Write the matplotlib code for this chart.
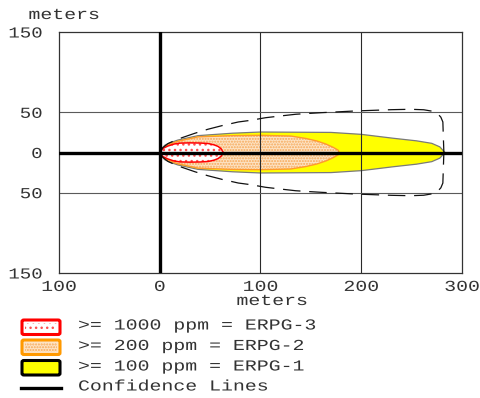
import numpy as np
import matplotlib
matplotlib.use("Agg")
import matplotlib.pyplot as plt
from matplotlib.patches import FancyBboxPatch
from matplotlib.lines import Line2D
from matplotlib.patheffects import AbstractPathEffect
from matplotlib.transforms import Affine2D

# Threat zone footprints: downwind distance (m) and half-width of each zone (m)
erpg1_x = [0, 2, 5, 10, 18, 38, 72, 100, 170, 200, 232, 255, 270, 278, 283]
erpg1_w = [0, 5, 9, 12, 15.5, 21, 24, 25.5, 25, 22.6, 17.7, 14.5, 11.4, 7, 0]

erpg2_x = [0, 2, 5, 10, 18, 38, 72, 100, 130, 145, 156, 165, 172, 177, 178]
erpg2_w = [0, 4, 7.5, 10.5, 14, 19.5, 21, 21.4, 20.5, 17.5, 14.3, 10.5, 6.5, 3, 0]

erpg3_x = [0, 3, 8, 14, 20, 30, 40, 48, 54, 58, 61, 63]
erpg3_w = [0, 5, 8, 10.5, 11.7, 12, 11.8, 11.2, 9.5, 7.5, 4.5, 0]

# Confidence lines around the ERPG-1 footprint
conf_x = [0, 3, 8, 15, 22, 35, 48, 62, 78, 90, 105, 120, 135, 150, 161, 180,
          194, 212, 230, 249, 262, 270, 276, 279, 281, 282]
conf_w = [0, 6, 11, 15, 18.4, 24, 29, 33.5, 38, 40, 43.3, 45.5, 47.6, 48.8,
          49.6, 50.8, 51.7, 52.5, 53.3, 53.8, 53.2, 51.5, 48, 44, 38, 0]

x_ticks = [-100, 0, 100, 200, 300]
x_tick_labels = ["100", "0", "100", "200", "300"]
y_ticks = [-150, -50, 0, 50, 150]
y_tick_labels = ["150", "50", "0", "50", "150"]

legend_labels = [">= 1000 ppm = ERPG-3", ">= 200 ppm = ERPG-2",
                 ">= 100 ppm = ERPG-1", "Confidence Lines"]

FONT = "Liberation Mono"
TXT = "#333333"
FS = 11
plt.rcParams["hatch.linewidth"] = 1.0


class WideText(AbstractPathEffect):
    """Draw text glyphs stretched horizontally about an anchor."""

    def __init__(self, sx=1.3, anchor="left"):
        super().__init__()
        self.sx = sx
        self.anchor = anchor

    def draw_path(self, renderer, gc, tpath, affine, rgbFace=None):
        ext = tpath.get_extents()
        if self.anchor == "left":
            a = 0.0
        elif self.anchor == "right":
            a = ext.x1
        else:
            a = 0.5 * (ext.x0 + ext.x1)
        t = Affine2D().translate(-a, 0).scale(self.sx, 1.0).translate(a, 0) + affine
        renderer.draw_path(gc, tpath, t, rgbFace)


W, H = 481, 398
fig = plt.figure(figsize=(W / 100, H / 100), dpi=100)
ax = fig.add_axes([59 / W, 1 - 273 / H, 403 / W, 241 / H])
ax.set_xlim(-100, 300)
ax.set_ylim(-150, 150)

x1, w1 = np.array(erpg1_x), np.array(erpg1_w)
x2, w2 = np.array(erpg2_x), np.array(erpg2_w)
x3, w3 = np.array(erpg3_x), np.array(erpg3_w)
xc, wc = np.array(conf_x), np.array(conf_w)

# ERPG-1 (yellow)
ax.fill_between(x1, w1, -w1, facecolor="#FFFF00", linewidth=0, zorder=1)
ax.plot(x1, w1, color="#7a7a7a", lw=0.9, zorder=1.1)
ax.plot(x1, -w1, color="#7a7a7a", lw=0.9, zorder=1.1)

# ERPG-2 (orange, dotted texture)
ax.fill_between(x2, w2, -w2, facecolor="#FDE3C4", linewidth=0, zorder=1.2)
ax.fill_between(x2, w2, -w2, facecolor="none", hatch="......",
                edgecolor="#F6A858", linewidth=0, zorder=1.3)
ax.plot(x2, w2, color="#FF9A2E", lw=1.0, zorder=1.4)
ax.plot(x2, -w2, color="#FF9A2E", lw=1.0, zorder=1.4)

# ERPG-3 (red outline, white with red dots)
ax.fill_between(x3, w3, -w3, facecolor="white", linewidth=0, zorder=1.5)
ax.fill_between(x3, w3, -w3, facecolor="none", hatch="...",
                edgecolor="#FF5050", linewidth=0, zorder=1.6)
ax.plot(x3, w3, color="#FF0000", lw=1.1, zorder=1.7)
ax.plot(x3, -w3, color="#FF0000", lw=1.1, zorder=1.7)

# grid
for gx in (100, 200):
    ax.axvline(gx, color="#2a2a2a", lw=0.8, zorder=2)
for gy in (50, -50):
    ax.axhline(gy, color="#5a5a5a", lw=0.8, zorder=2)

# confidence lines
ax.plot(xc, wc, color="#111111", lw=0.9, dashes=(14, 7), zorder=3)
ax.plot(xc, -wc, color="#111111", lw=0.9, dashes=(14, 7), zorder=3)

# source axes
ax.axvline(0, color="black", lw=2.4, zorder=4)
ax.axhline(0, color="black", lw=2.4, zorder=4)

for s in ax.spines.values():
    s.set_color("#333333")
    s.set_linewidth(0.9)

ax.set_xticks(x_ticks)
ax.set_xticklabels(x_tick_labels)
ax.set_yticks(y_ticks)
ax.set_yticklabels(y_tick_labels)
ax.tick_params(axis="both", length=0, labelsize=FS, labelcolor=TXT)
ax.tick_params(axis="y", pad=12)
ax.tick_params(axis="x", pad=5)
for tk in ax.xaxis.get_major_ticks():
    tk.label1.set_fontfamily(FONT)
    tk.label1.set_path_effects([WideText(1.3, "center")])
for tk in ax.yaxis.get_major_ticks():
    tk.label1.set_fontfamily(FONT)
    tk.label1.set_path_effects([WideText(1.25, "right")])

fig.text(64 / W, 1 - 15 / H, "meters", ha="center", va="center",
         fontsize=FS, family=FONT, color=TXT,
         path_effects=[WideText(1.3, "center")])
fig.text(272 / W, 1 - 301 / H, "meters", ha="center", va="center",
         fontsize=FS, family=FONT, color=TXT,
         path_effects=[WideText(1.3, "center")])


# legend
def box(y_top, y_bot, edge, face, hatch=None, hatch_col=None):
    x0, x1b = 22 / W, 60 / W
    p = FancyBboxPatch((x0, 1 - y_bot / H), x1b - x0, (y_bot - y_top) / H,
                       boxstyle="round,pad=0,rounding_size=0.004",
                       transform=fig.transFigure, facecolor=face,
                       edgecolor=edge, linewidth=2.2)
    fig.add_artist(p)
    if hatch:
        ph = FancyBboxPatch((x0 + 3 / W, 1 - (y_bot - 3) / H),
                            x1b - x0 - 6 / W, (y_bot - y_top - 6) / H,
                            boxstyle="square,pad=0", transform=fig.transFigure,
                            facecolor="none", edgecolor=hatch_col,
                            hatch=hatch, linewidth=0)
        fig.add_artist(ph)


box(320, 334.5, "#FF0000", "white", "...", "#FF5050")
box(340, 354.5, "#FF9900", "#FDE3C4", "......", "#F6A858")
box(360.5, 375, "#000000", "#FFFF00")
fig.add_artist(Line2D([21 / W, 61 / W], [1 - 388 / H, 1 - 388 / H],
                      transform=fig.transFigure, color="black", lw=2.4))

for i, lab in enumerate(legend_labels):
    yc = [325.5, 346, 366.5, 386.5][i]
    fig.text(78 / W, 1 - yc / H, lab, ha="left", va="center",
             fontsize=FS, family=FONT, color=TXT,
             path_effects=[WideText(1.3, "left")])

fig.savefig("out.png", dpi=100)
